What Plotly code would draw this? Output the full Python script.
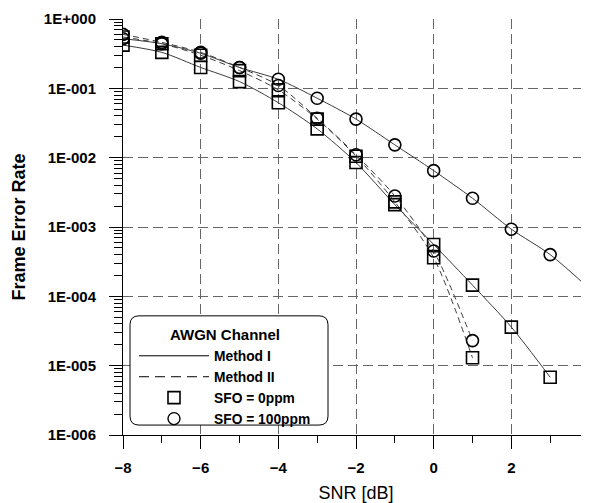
import plotly.graph_objects as go

# ---------------- data ----------------
snr_m1_sfo0 = [-8, -7, -6, -5, -4, -3, -2, -1, 0, 1, 2, 3]
fer_m1_sfo0 = [0.42, 0.33, 0.20, 0.125, 0.062, 0.026, 0.0085, 0.0021, 5.6e-4, 1.45e-4, 3.6e-5, 6.8e-6]

snr_m1_sfo100 = [-8, -7, -6, -5, -4, -3, -2, -1, 0, 1, 2, 3, 4]
fer_m1_sfo100 = [0.52, 0.44, 0.32, 0.20, 0.135, 0.072, 0.036, 0.0153, 0.0065, 0.0026, 9.3e-4, 4.0e-4, 1.3e-4]

snr_m2_sfo0 = [-8, -7, -6, -5, -4, -3, -2, -1, 0, 1]
fer_m2_sfo0 = [0.55, 0.44, 0.30, 0.18, 0.095, 0.036, 0.0105, 0.0023, 3.6e-4, 1.3e-5]

snr_m2_sfo100 = [-8, -7, -6, -5, -4, -3, -2, -1, 0, 1]
fer_m2_sfo100 = [0.60, 0.46, 0.33, 0.20, 0.11, 0.037, 0.011, 0.0028, 4.5e-4, 2.3e-5]

x_ticks = [-8, -6, -4, -2, 0, 2, 4]
x_minor = [-7, -5, -3, -1, 1, 3]
y_ticks = [1, 1e-1, 1e-2, 1e-3, 1e-4, 1e-5, 1e-6]
y_ticktext = ["1E+000", "1E-001", "1E-002", "1E-003", "1E-004", "1E-005", "1E-006"]
y_minor = [k * 10.0 ** (-d) for d in range(1, 7) for k in range(2, 10)]

legend_title = "AWGN Channel"
legend_names = ["Method I", "Method II", "SFO = 0ppm", "SFO = 100ppm"]

# ---------------- figure ----------------
FONT = "Liberation Sans, Arial, sans-serif"
LINE_COL = "#3c3c3c"
fig = go.Figure()


def add_series(xs, ys, dash, symbol):
    fig.add_trace(go.Scatter(
        x=xs, y=ys, mode="lines+markers", showlegend=False,
        line=dict(color=LINE_COL, width=1, dash=dash, shape="spline", smoothing=0.8),
        marker=dict(symbol=symbol, size=12, color="black",
                    line=dict(color="black", width=1.6)),
    ))


add_series(snr_m1_sfo0, fer_m1_sfo0, "solid", "square-open")
add_series(snr_m1_sfo100, fer_m1_sfo100, "solid", "circle-open")
add_series(snr_m2_sfo0, fer_m2_sfo0, "6px,4px", "square-open")
add_series(snr_m2_sfo100, fer_m2_sfo100, "6px,4px", "circle-open")

# legend entries
fig.add_trace(go.Scatter(x=[None], y=[None], mode="lines", name=legend_names[0],
                         line=dict(color="black", width=1)))
fig.add_trace(go.Scatter(x=[None], y=[None], mode="lines", name=legend_names[1],
                         line=dict(color="black", width=1, dash="10px,6px")))
fig.add_trace(go.Scatter(x=[None], y=[None], mode="markers", name=legend_names[2],
                         marker=dict(symbol="square-open", size=12, color="black",
                                     line=dict(color="black", width=1.6))))
fig.add_trace(go.Scatter(x=[None], y=[None], mode="markers", name=legend_names[3],
                         marker=dict(symbol="circle-open", size=12, color="black",
                                     line=dict(color="black", width=1.4))))

# the page body has an 8px margin, so the figure is drawn 8px in from the top-left
OFF = 8
W, H = 589 - OFF, 503 - OFF
L, R, T, B = 123 - OFF, 0, 19 - OFF, 65
pw, ph = W - L - R, H - T - B


def px_to_paper(xp, yp):
    # xp, yp in page pixels
    return (xp - OFF - L) / pw, (H - B - (yp - OFF)) / ph


# rounded legend box
bx0, by0 = px_to_paper(130, 318)
bx1, by1 = px_to_paper(328, 428)
rx, ry = 9 / pw, 9 / ph
path = (f"M {bx0+rx},{by0} L {bx1-rx},{by0} Q {bx1},{by0} {bx1},{by0-ry} "
        f"L {bx1},{by1+ry} Q {bx1},{by1} {bx1-rx},{by1} "
        f"L {bx0+rx},{by1} Q {bx0},{by1} {bx0},{by1+ry} "
        f"L {bx0},{by0-ry} Q {bx0},{by0} {bx0+rx},{by0} Z")
fig.add_shape(type="path", path=path, xref="paper", yref="paper",
              fillcolor="white", line=dict(color="black", width=1), layer="above")

lx, ly = px_to_paper(134, 323)

fig.update_layout(
    width=W, height=H,
    margin=dict(l=L, r=R, t=T, b=B, pad=0),
    paper_bgcolor="white", plot_bgcolor="white",
    font=dict(family=FONT, color="black"),
    showlegend=True,
    legend=dict(
        x=lx, y=ly, xanchor="left", yanchor="top",
        bgcolor="rgba(0,0,0,0)", borderwidth=0,
        font=dict(family=FONT, size=13.8, weight="bold", color="black"),
        title=dict(text=legend_title, side="top center",
                   font=dict(family=FONT, size=15, weight="bold")),
        itemwidth=70, tracegroupgap=0,
    ),
    xaxis=dict(
        range=[-8, 4], tickmode="array", tickvals=x_ticks,
        ticks="outside", ticklen=13, tickwidth=1, tickcolor="black",
        showline=True, linecolor="black", linewidth=1,
        showgrid=True, gridcolor="#666666", gridwidth=1, griddash="10px,5px",
        zeroline=False, ticklabelstandoff=6,
        tickfont=dict(family=FONT, size=15, weight="bold", color="black"),
        minor=dict(tickmode="array", tickvals=x_minor, ticks="outside", ticklen=7,
                   tickcolor="black", showgrid=False),
        title=dict(text="SNR [dB]", font=dict(family=FONT, size=18, color="black"), standoff=14),
    ),
    yaxis=dict(
        type="log", range=[-6, 0], tickmode="array", tickvals=y_ticks, ticktext=y_ticktext,
        ticks="outside", ticklen=13, tickwidth=1, tickcolor="black",
        showline=True, linecolor="black", linewidth=1,
        showgrid=True, gridcolor="#666666", gridwidth=1, griddash="10px,5px",
        zeroline=False, ticklabelstandoff=10,
        tickfont=dict(family=FONT, size=15, weight="bold", color="black"),
        minor=dict(tickmode="array", tickvals=y_minor, ticks="outside", ticklen=8,
                   tickcolor="black", showgrid=False),
        title=dict(text="Frame Error Rate",
                   font=dict(family=FONT, size=18, weight="bold", color="black"), standoff=13),
    ),
)

fig.write_html("out.html")
